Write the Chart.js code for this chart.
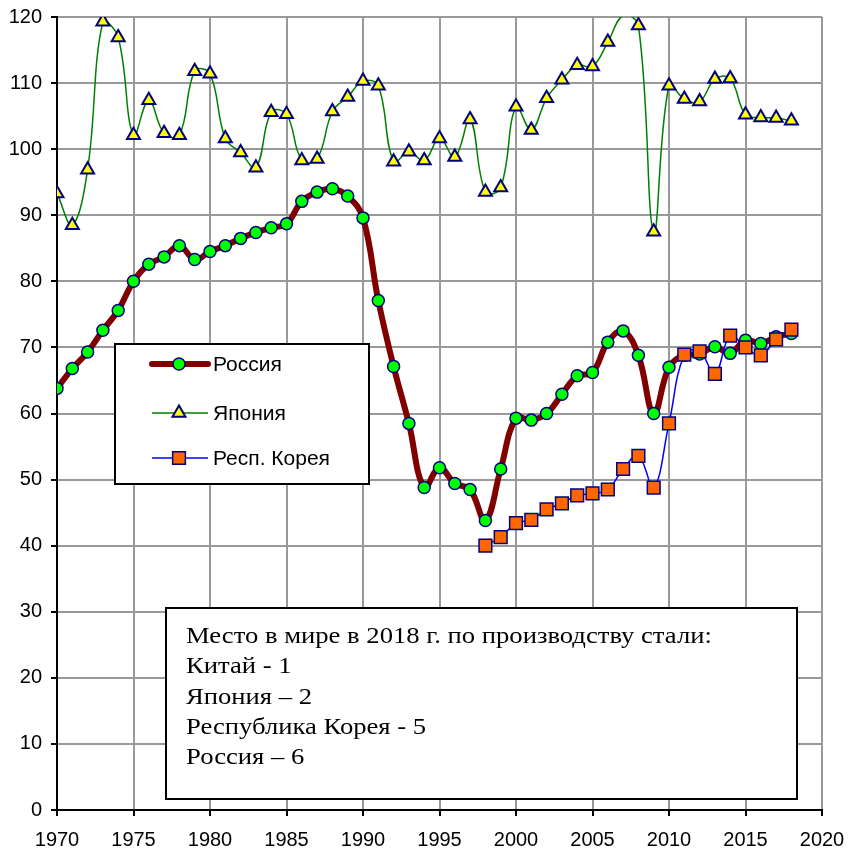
<!DOCTYPE html>
<html>
<head>
<meta charset="utf-8">
<script src="https://cdn.jsdelivr.net/npm/chart.js@4"></script>
<style>
  html, body { margin: 0; padding: 0; background: #fff; }
  #wrap { position: relative; width: 848px; height: 855px; }
</style>
</head>
<body>
<div id="wrap"><canvas id="steel" width="848" height="855"></canvas></div>
<script>
// годы и производство стали, млн т
const years = [1970, 1971, 1972, 1973, 1974, 1975, 1976, 1977, 1978, 1979,
  1980, 1981, 1982, 1983, 1984, 1985, 1986, 1987, 1988, 1989,
  1990, 1991, 1992, 1993, 1994, 1995, 1996, 1997, 1998, 1999,
  2000, 2001, 2002, 2003, 2004, 2005, 2006, 2007, 2008, 2009,
  2010, 2011, 2012, 2013, 2014, 2015, 2016, 2017, 2018];

const russia = [63.8, 66.8, 69.3, 72.6, 75.6, 80.0, 82.6, 83.7, 85.4, 83.3,
  84.5, 85.4, 86.5, 87.4, 88.1, 88.7, 92.1, 93.5, 94.0, 92.9,
  89.6, 77.1, 67.1, 58.5, 48.8, 51.8, 49.4, 48.5, 43.8, 51.6,
  59.3, 59.0, 60.0, 62.9, 65.7, 66.2, 70.8, 72.5, 68.8, 60.0,
  67.0, 68.8, 69.0, 70.1, 69.1, 71.1, 70.6, 71.6, 72.1];

const japan = [93.3, 88.5, 96.9, 119.3, 116.9, 102.1, 107.4, 102.4, 102.1, 111.8,
  111.4, 101.6, 99.5, 97.2, 105.6, 105.3, 98.3, 98.5, 105.7, 107.9,
  110.3, 109.6, 98.1, 99.6, 98.3, 101.6, 98.8, 104.5, 93.5, 94.2,
  106.4, 102.9, 107.7, 110.5, 112.7, 112.5, 116.2, 120.2, 118.7, 87.5,
  109.6, 107.6, 107.2, 110.6, 110.7, 105.2, 104.8, 104.7, 104.3];

const koreaYears = [1998, 1999, 2000, 2001, 2002, 2003, 2004, 2005, 2006, 2007,
  2008, 2009, 2010, 2011, 2012, 2013, 2014, 2015, 2016, 2017, 2018];
const korea = [40.0, 41.3, 43.4, 43.9, 45.5, 46.4, 47.6, 47.9, 48.5, 51.6,
  53.6, 48.8, 58.5, 68.9, 69.4, 66.0, 71.8, 70.0, 68.8, 71.2, 72.7];

const legendNames = ["Россия", "Япония", "Респ. Корея"];
const noteLines = [
  "Место в мире в 2018 г. по производству стали:",
  "Китай - 1",
  "Япония \u2013 2",
  "Республика Корея - 5",
  "Россия \u2013 6"
];

function pairs(xs, ys) {
  return xs.map(function (x, i) { return { x: x, y: ys[i] }; });
}

// легенда и надпись внутри графика
const boxesPlugin = {
  id: "boxes",
  afterDraw: function (chart) {
    const ctx = chart.ctx;
    ctx.save();

    // легенда
    ctx.fillStyle = "#fff";
    ctx.fillRect(115, 344, 254, 140);
    ctx.strokeStyle = "#000";
    ctx.lineWidth = 2;
    ctx.strokeRect(115, 344, 254, 140);

    const rows = [364, 413, 458];
    chart.data.datasets.forEach(function (ds, i) {
      const y = rows[i];
      const po = chart.getDatasetMeta(i).data[0].options;
      ctx.strokeStyle = ds.borderColor;
      ctx.lineWidth = ds.borderWidth;
      ctx.lineCap = i === 0 ? "round" : "butt";
      ctx.beginPath();
      ctx.moveTo(152, y);
      ctx.lineTo(208, y);
      ctx.stroke();
      ctx.fillStyle = po.backgroundColor;
      ctx.strokeStyle = po.borderColor;
      ctx.lineWidth = po.borderWidth;
      Chart.helpers.drawPoint(ctx, {
        pointStyle: po.pointStyle,
        radius: po.radius,
        rotation: 0,
        borderWidth: po.borderWidth
      }, 179, y);
      ctx.fillStyle = "#000";
      ctx.font = "21px 'Liberation Sans', Arial, sans-serif";
      ctx.textBaseline = "middle";
      ctx.textAlign = "left";
      ctx.fillText(ds.label, 213, y + 1);
    });

    // надпись
    ctx.fillStyle = "#fff";
    ctx.fillRect(166, 608, 631, 191);
    ctx.strokeStyle = "#000";
    ctx.lineWidth = 2;
    ctx.strokeRect(166, 608, 631, 191);
    ctx.fillStyle = "#000";
    ctx.font = "24px 'Liberation Serif', 'Times New Roman', serif";
    ctx.textBaseline = "alphabetic";
    ctx.translate(186, 0);
    ctx.scale(1.11, 1);
    noteLines.forEach(function (t, i) {
      ctx.fillText(t, 0, 643 + i * 30.3);
    });

    ctx.restore();
  }
};

new Chart(document.getElementById("steel"), {
  type: "line",
  data: {
    datasets: [
      {
        label: legendNames[0],
        data: pairs(years, russia),
        borderColor: "#800000",
        borderWidth: 6,
        pointStyle: "circle",
        pointRadius: 6,
        pointBackgroundColor: "#00ff00",
        pointBorderColor: "#000080",
        pointBorderWidth: 1.5,
        order: 2
      },
      {
        label: legendNames[1],
        data: pairs(years, japan),
        borderColor: "#008000",
        borderWidth: 1.5,
        pointStyle: "triangle",
        pointRadius: function (c) { return c.raw && c.raw.y > 120 ? 0 : 7.5; },
        pointBackgroundColor: "#ffff00",
        pointBorderColor: "#000080",
        pointBorderWidth: 2,
        order: 1
      },
      {
        label: legendNames[2],
        data: pairs(koreaYears, korea),
        borderColor: "#0000ff",
        borderWidth: 1.5,
        pointStyle: "rect",
        pointRadius: 9,
        pointBackgroundColor: "#ff6600",
        pointBorderColor: "#000080",
        pointBorderWidth: 1.5,
        order: 0
      }
    ]
  },
  options: {
    responsive: false,
    animation: false,
    layout: { padding: { top: 17, right: 26, left: 0, bottom: 0 } },
    plugins: {
      legend: { display: false },
      tooltip: { enabled: false }
    },
    elements: { line: { tension: 0.4 } },
    scales: {
      x: {
        type: "linear",
        min: 1970,
        max: 2020,
        afterFit: function (s) {
          s.height = 45;
          s.paddingLeft = 0;
          s.paddingRight = 0;
        },
        ticks: {
          stepSize: 5,
          padding: 12,
          color: "#000",
          font: { size: 20, family: "'Liberation Sans', Arial, sans-serif" },
          callback: function (v) { return String(v); },
          maxRotation: 0
        },
        grid: { color: "#999", lineWidth: 2, tickColor: "#000", tickLength: 6 },
        border: { color: "#000", width: 2 }
      },
      y: {
        min: 0,
        max: 120,
        afterFit: function (s) {
          s.width = 57;
          s.paddingTop = 0;
          s.paddingBottom = 0;
        },
        ticks: {
          stepSize: 10,
          padding: 9,
          color: "#000",
          font: { size: 20, family: "'Liberation Sans', Arial, sans-serif" }
        },
        grid: { color: "#999", lineWidth: 2, tickColor: "#000", tickLength: 6 },
        border: { color: "#000", width: 2 }
      }
    }
  },
  plugins: [boxesPlugin]
});
</script>
</body>
</html>
